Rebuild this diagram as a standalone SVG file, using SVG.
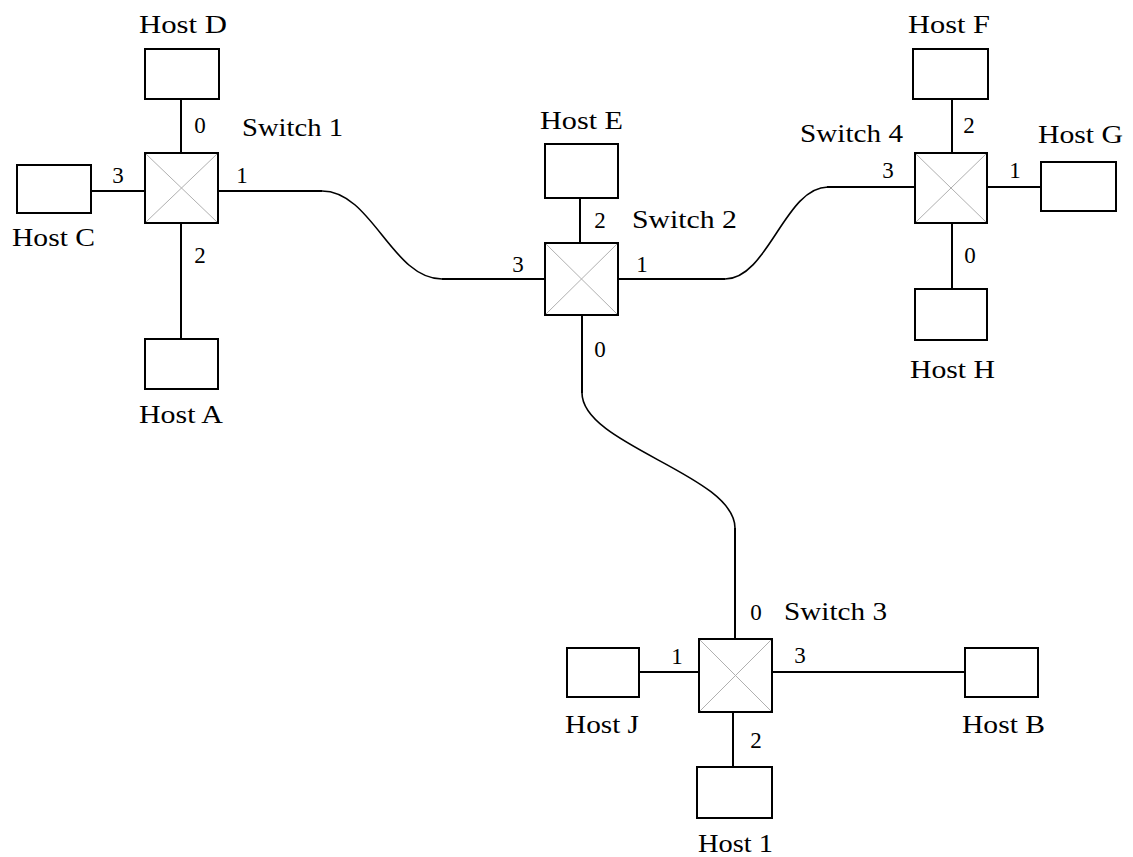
<svg xmlns="http://www.w3.org/2000/svg" width="1133" height="857" viewBox="0 0 1133 857">
<style>
.host{fill:#fff;stroke:#000;stroke-width:2}
.sw{fill:#fff;stroke:#000;stroke-width:2}
.x{stroke:#b0b0b0;stroke-width:1}
.ln{fill:none;stroke:#000;stroke-width:2}
.cv{fill:none;stroke:#000;stroke-width:1.6}
.lbl{font-family:"Liberation Serif","Times New Roman",serif;font-size:26px;fill:#000}
.port{font-family:"Liberation Serif","Times New Roman",serif;font-size:23px;fill:#000;text-anchor:middle}
</style>
<rect width="1133" height="857" fill="#fff"/>
<g id="connectors">
<line class="ln" x1="181" y1="99" x2="181" y2="153"/>
<line class="ln" x1="181" y1="223" x2="181" y2="339"/>
<line class="ln" x1="91" y1="191" x2="145" y2="191"/>
<path class="ln" d="M218,191 H322"/>
<path class="cv" d="M322,191 C372,191 392,279 442,279"/>
<path class="ln" d="M442,279 H545"/>
<line class="ln" x1="580" y1="198" x2="580" y2="243"/>
<path class="ln" d="M618,279 H725"/>
<path class="cv" d="M725,279 C768,279 785,187 828,187"/>
<path class="ln" d="M827,187 H915"/>
<line class="ln" x1="952" y1="99" x2="952" y2="153"/>
<line class="ln" x1="952" y1="223" x2="952" y2="289"/>
<line class="ln" x1="987" y1="187" x2="1041" y2="187"/>
<path class="ln" d="M582,315 V393"/>
<path class="cv" d="M582,393 C582,445 735,475 735,528"/>
<path class="ln" d="M735,528 V639"/>
<line class="ln" x1="639" y1="672" x2="699" y2="672"/>
<line class="ln" x1="772" y1="672" x2="965" y2="672"/>
<line class="ln" x1="733" y1="712" x2="733" y2="767"/>
</g>
<g id="switch1">
<rect class="sw" x="145" y="153" width="73" height="70"/>
<line class="x" x1="146" y1="154" x2="217" y2="222"/><line class="x" x1="217" y1="154" x2="146" y2="222"/>
<text class="lbl" x="242" y="136" textLength="101" lengthAdjust="spacingAndGlyphs">Switch 1</text>
<text class="port" x="200" y="133">0</text>
<text class="port" x="118" y="183">3</text>
<text class="port" x="242" y="183">1</text>
<text class="port" x="200" y="263">2</text>
</g>
<g id="switch2">
<rect class="sw" x="545" y="243" width="73" height="72"/>
<line class="x" x1="546" y1="244" x2="617" y2="314"/><line class="x" x1="617" y1="244" x2="546" y2="314"/>
<text class="lbl" x="632" y="228" textLength="105" lengthAdjust="spacingAndGlyphs">Switch 2</text>
<text class="port" x="600" y="228">2</text>
<text class="port" x="518" y="272">3</text>
<text class="port" x="642" y="272">1</text>
<text class="port" x="600" y="357">0</text>
</g>
<g id="switch4">
<rect class="sw" x="915" y="153" width="72" height="70"/>
<line class="x" x1="916" y1="154" x2="986" y2="222"/><line class="x" x1="986" y1="154" x2="916" y2="222"/>
<text class="lbl" x="800" y="142" textLength="103" lengthAdjust="spacingAndGlyphs">Switch 4</text>
<text class="port" x="969" y="133">2</text>
<text class="port" x="888" y="178">3</text>
<text class="port" x="1015" y="178">1</text>
<text class="port" x="970" y="263">0</text>
</g>
<g id="switch3">
<rect class="sw" x="699" y="639" width="73" height="73"/>
<line class="x" x1="700" y1="640" x2="771" y2="711"/><line class="x" x1="771" y1="640" x2="700" y2="711"/>
<text class="lbl" x="784" y="620" textLength="103" lengthAdjust="spacingAndGlyphs">Switch 3</text>
<text class="port" x="756" y="620">0</text>
<text class="port" x="677" y="664">1</text>
<text class="port" x="800" y="663">3</text>
<text class="port" x="756" y="748">2</text>
</g>
<g id="hostD"><rect class="host" x="145" y="49" width="74" height="50"/><text class="lbl" x="139" y="33" textLength="88" lengthAdjust="spacingAndGlyphs">Host D</text></g>
<g id="hostC"><rect class="host" x="17" y="165" width="74" height="48"/><text class="lbl" x="12" y="246" textLength="83" lengthAdjust="spacingAndGlyphs">Host C</text></g>
<g id="hostA"><rect class="host" x="145" y="339" width="73" height="50"/><text class="lbl" x="139" y="423" textLength="84" lengthAdjust="spacingAndGlyphs">Host A</text></g>
<g id="hostE"><rect class="host" x="545" y="144" width="73" height="54"/><text class="lbl" x="540" y="129" textLength="83" lengthAdjust="spacingAndGlyphs">Host E</text></g>
<g id="hostF"><rect class="host" x="913" y="49" width="75" height="50"/><text class="lbl" x="908" y="33" textLength="82" lengthAdjust="spacingAndGlyphs">Host F</text></g>
<g id="hostG"><rect class="host" x="1041" y="162" width="75" height="49"/><text class="lbl" x="1038" y="143" textLength="85" lengthAdjust="spacingAndGlyphs">Host G</text></g>
<g id="hostH"><rect class="host" x="915" y="289" width="72" height="51"/><text class="lbl" x="910" y="378" textLength="85" lengthAdjust="spacingAndGlyphs">Host H</text></g>
<g id="hostJ"><rect class="host" x="567" y="648" width="72" height="49"/><text class="lbl" x="565" y="733" textLength="74" lengthAdjust="spacingAndGlyphs">Host J</text></g>
<g id="hostB"><rect class="host" x="965" y="648" width="73" height="49"/><text class="lbl" x="962" y="733" textLength="83" lengthAdjust="spacingAndGlyphs">Host B</text></g>
<g id="host1"><rect class="host" x="697" y="767" width="75" height="51"/><text class="lbl" x="698" y="852" textLength="75" lengthAdjust="spacingAndGlyphs">Host 1</text></g>
</svg>
